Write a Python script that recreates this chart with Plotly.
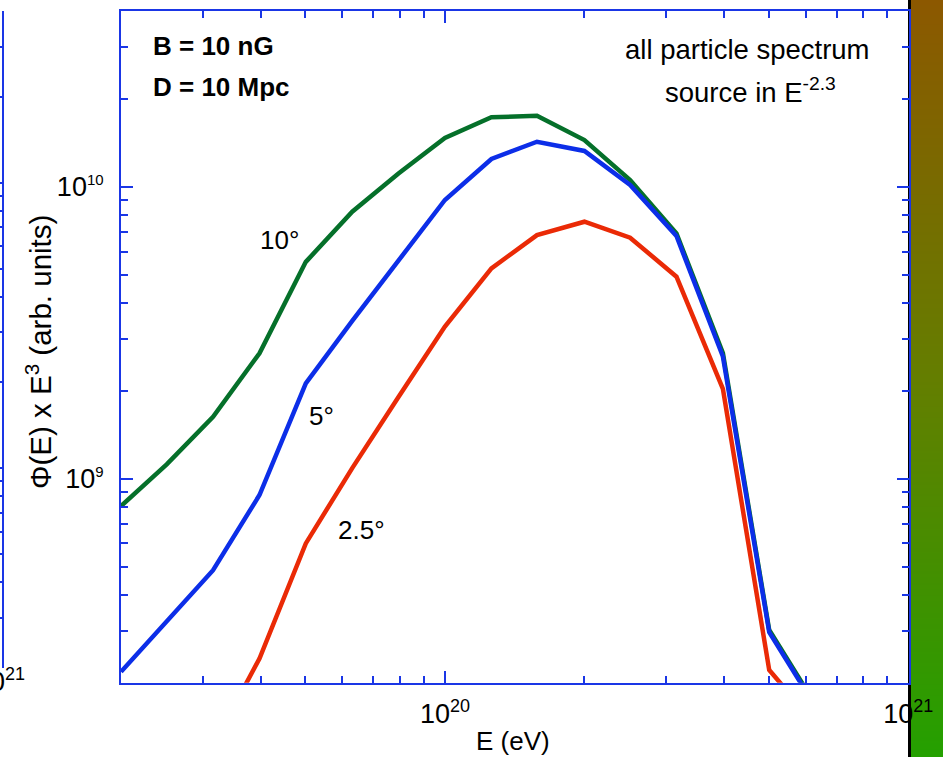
import math
import plotly.graph_objects as go

# ---------------- data ----------------
energy_eV = [2.0e19, 2.51e19, 3.16e19, 3.98e19, 5.01e19, 6.31e19, 7.94e19, 1.0e20,
             1.26e20, 1.58e20, 2.0e20, 2.51e20, 3.16e20, 3.98e20, 5.01e20, 6.31e20]
flux_10deg = [8.05e8, 1.12e9, 1.63e9, 2.69e9, 5.53e9, 8.21e9, 1.11e10, 1.47e10,
              1.73e10, 1.75e10, 1.445e10, 1.054e10, 6.92e9, 2.69e9, 3.03e8, 1.68e8]
flux_5deg = [2.18e8, 3.24e8, 4.86e8, 8.79e8, 2.12e9, 3.47e9, 5.57e9, 9.01e9,
             1.245e10, 1.426e10, 1.326e10, 1.014e10, 6.78e9, 2.62e9, 2.98e8, 1.65e8]
flux_2p5deg = [None, None, 1.22e8, 2.42e8, 6.0e8, 1.087e9, 1.904e9, 3.32e9,
               5.25e9, 6.83e9, 7.59e9, 6.69e9, 4.92e9, 2.03e9, 2.21e8, 1.44e8]
series_names = ["10°", "5°", "2.5°"]

x_tick_vals = [1e20, 1e21]
x_tick_exps = ["20", "21"]
y_tick_vals = [1e9, 1e10]
y_tick_exps = ["9", "10"]

x_range_eV = [2.0e19, 1.0e21]
y_range = [2.0e8, 4.0e10]

# gradient strip on the right edge (neighbouring panel)
gradient_levels = [[0, 0], [1, 1]]

# ---------------- styling ----------------
W, H = 943, 757
FONT = "Liberation Sans, Arial, Helvetica, sans-serif"
AX = "#1a36e6"
C_GREEN = "#05702a"
C_BLUE = "#0c2ee8"
C_RED = "#ea2a06"


def px(x):
    return x / W


def py(y):
    return 1 - y / H


def pow10(exp, size):
    return "10<sup><span style='font-size:%dpx'>%s</span></sup>" % (size, exp)


L, R, T, B = 121, 908.5, 11, 682.7

fig = go.Figure()

# subplot 1: colour strip (drawn first so main labels sit on top)
fig.add_trace(go.Heatmap(z=gradient_levels, x=[0, 1], y=[0, 1], zsmooth="best",
                         colorscale=[[0, "rgb(36,160,0)"], [0.5, "rgb(100,126,0)"], [1, "rgb(140,88,0)"]],
                         showscale=False, hoverinfo="skip", xaxis="x", yaxis="y"))

# subplot 2: main chart
for name, vals, col in zip(series_names, [flux_10deg, flux_5deg, flux_2p5deg], [C_GREEN, C_BLUE, C_RED]):
    fig.add_trace(go.Scatter(x=energy_eV, y=vals, mode="lines", name=name,
                             line=dict(color=col, width=4.5), showlegend=False,
                             xaxis="x2", yaxis="y2", connectgaps=False))

# subplot 3: sliver of the neighbouring left panel
fig.add_trace(go.Scatter(x=[None], y=[None], mode="lines", showlegend=False,
                         hoverinfo="skip", xaxis="x3", yaxis="y3"))

lx = [math.log10(v) for v in x_range_eV]
ly = [math.log10(v) for v in y_range]

common_ax = dict(showline=True, linecolor=AX, linewidth=2, ticks="inside", ticklen=12,
                 tickwidth=2, tickcolor=AX, showgrid=False, zeroline=False, automargin=False,
                 minor=dict(ticks="inside", ticklen=7, tickwidth=2, tickcolor=AX,
                            dtick="D1", showgrid=False))

fig.update_layout(
    template="none",
    width=W, height=H, autosize=False,
    margin=dict(l=0, r=0, t=0, b=0, pad=0),
    paper_bgcolor="white", plot_bgcolor="white",
    font=dict(family=FONT, color="black", size=25),
    xaxis=dict(domain=[px(911), 1], range=[0, 1], visible=False, anchor="y", automargin=False),
    yaxis=dict(domain=[0, 1], range=[0, 1], anchor="x", showline=True, linecolor="black",
               linewidth=2.5, showticklabels=False, ticks="", showgrid=False, zeroline=False,
               automargin=False),
    xaxis2=dict(domain=[px(L), px(R)], anchor="y2", type="log",
                range=[lx[0], lx[1] + 0.0004], mirror="ticks",
                tickmode="array", tickvals=x_tick_vals,
                ticktext=[pow10(e, 18) for e in x_tick_exps],
                tickfont=dict(size=27), ticklabelstandoff=6, **common_ax),
    yaxis2=dict(domain=[py(B), py(T)], anchor="x2", type="log", range=ly, mirror="ticks",
                tickmode="array", tickvals=y_tick_vals,
                ticktext=[pow10(e, 15) for e in y_tick_exps],
                tickfont=dict(size=27), ticklabelstandoff=10, **common_ax),
    xaxis3=dict(domain=[0, px(2)], anchor="y3", visible=False, range=[0, 1], automargin=False),
    yaxis3=dict(domain=[py(668), py(11)], anchor="x3", type="log", range=ly, side="right",
                showticklabels=False, dtick=1, **common_ax),
)

ann = dict(showarrow=False, xref="paper", yref="paper")
f26 = dict(family=FONT, size=26, color="black")
f27 = dict(family=FONT, size=27.5, color="black")
fig.add_annotation(text="<b>B = 10 nG</b>", x=px(151), y=py(46), xanchor="left", yanchor="middle", font=f26, **ann)
fig.add_annotation(text="<b>D = 10 Mpc</b>", x=px(151), y=py(87), xanchor="left", yanchor="middle", font=f26, **ann)
fig.add_annotation(text="all particle spectrum", x=px(747), y=py(49), xanchor="center", yanchor="middle", font=f27, **ann)
fig.add_annotation(text="source in E<sup>-2.3</sup>", x=px(750), y=py(91), xanchor="center", yanchor="middle", font=f27, **ann)
fig.add_annotation(text=series_names[0], x=px(279), y=py(240), xanchor="center", yanchor="middle", font=f26, **ann)
fig.add_annotation(text=series_names[1], x=px(321), y=py(416), xanchor="center", yanchor="middle", font=f26, **ann)
fig.add_annotation(text=series_names[2], x=px(361), y=py(530), xanchor="center", yanchor="middle", font=f26, **ann)
fig.add_annotation(text="E (eV)", x=px(513), y=py(741), xanchor="center", yanchor="middle", font=f26, **ann)
fig.add_annotation(text="Φ(E) x E<sup>3</sup> (arb. units)", x=px(38), y=py(352), textangle=-90,
                   xanchor="center", yanchor="middle", font=dict(family=FONT, size=29.5, color="black"), **ann)
fig.add_annotation(text=pow10("21", 18), x=px(27), y=py(680), xanchor="right", yanchor="middle",
                   font=dict(family=FONT, size=27, color="black"), **ann)

fig.write_html("out.html",
               config={"responsive": False, "displayModeBar": False},
               post_script="document.body.style.margin='0px';document.body.style.overflow='hidden';")
